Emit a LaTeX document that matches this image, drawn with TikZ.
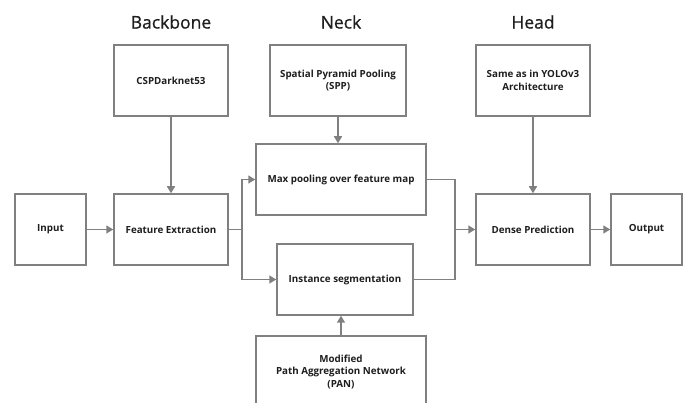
\documentclass[tikz,border=0pt]{standalone}
\usepackage{fontspec}
\setmainfont{Open Sans}
\newfontfamily\ttlfont[FakeBold=0.7]{Open Sans}
\usetikzlibrary{arrows.meta,calc}
\definecolor{ln}{RGB}{128,128,128}
\definecolor{tx}{RGB}{30,30,30}
\begin{document}
\begin{tikzpicture}[x=1pt,y=-1pt,
  box/.style={draw=ln,line width=1.5pt,minimum height=71pt,align=center,inner sep=2pt,
    font=\fontsize{9.8}{12.7}\selectfont\bfseries,text=tx},
  ttl/.style={font=\ttlfont\fontsize{17.5}{20}\selectfont,text=tx},
  con/.style={draw=ln,line width=1.5pt},
  arr/.style={con,-{Triangle[length=7pt,width=8pt]}}]
\useasboundingbox (0,0) rectangle (688,403);
\clip (0,0) rectangle (688,403);
\node[ttl] (tb) at (171,22) {Backbone};
\node[ttl] (tn) at (341,22) {Neck};
\node[ttl] (th) at (533,22) {Head};
\node[box,minimum width=71pt] (in) at (50.5,229.5) {Input};
\node[box,minimum width=114pt] (fe) at (171,229.5) {Feature Extraction};
\node[box,minimum width=114pt] (csp) at (171,80.5) {CSPDarknet53};
\node[box,minimum width=136pt] (spp) at (338,80.5) {Spatial Pyramid Pooling\\(SPP)};
\node[box,minimum width=170pt] (mp) at (341,179.5) {Max pooling over feature map};
\node[box,minimum width=136pt] (is) at (345,279.5) {Instance segmentation};
\node[box,minimum width=170pt,minimum height=72pt] (pan) at (341,372) {Modified\\Path Aggregation Network\\(PAN)};
\node[box,minimum width=114pt] (hd) at (533,80.5) {Same as in YOLOv3\\Architecture};
\node[box,minimum width=114pt] (dn) at (533,229.5) {Dense Prediction};
\node[box,minimum width=71pt] (out) at (646.5,229.5) {Output};
\coordinate (j1) at (242,229.5);
\coordinate (j2) at (455,229.5);
\draw[arr] (in.east) -- (fe.west);
\draw[arr] (csp.south) -- (fe.north);
\draw[con] (fe.east) -- (j1);
\draw[arr] (j1) |- (mp.west);
\draw[arr] (j1) |- (is.west);
\draw[arr] (spp.south) -- (spp.south |- mp.north);
\draw[arr] (pan.north) -- (pan.north |- is.south);
\draw[con] (mp.east) -| (j2);
\draw[con] (is.east) -| (j2);
\draw[arr] (j2) -- (dn.west);
\draw[arr] (hd.south) -- (dn.north);
\draw[arr] (dn.east) -- (out.west);
\end{tikzpicture}
\end{document}
